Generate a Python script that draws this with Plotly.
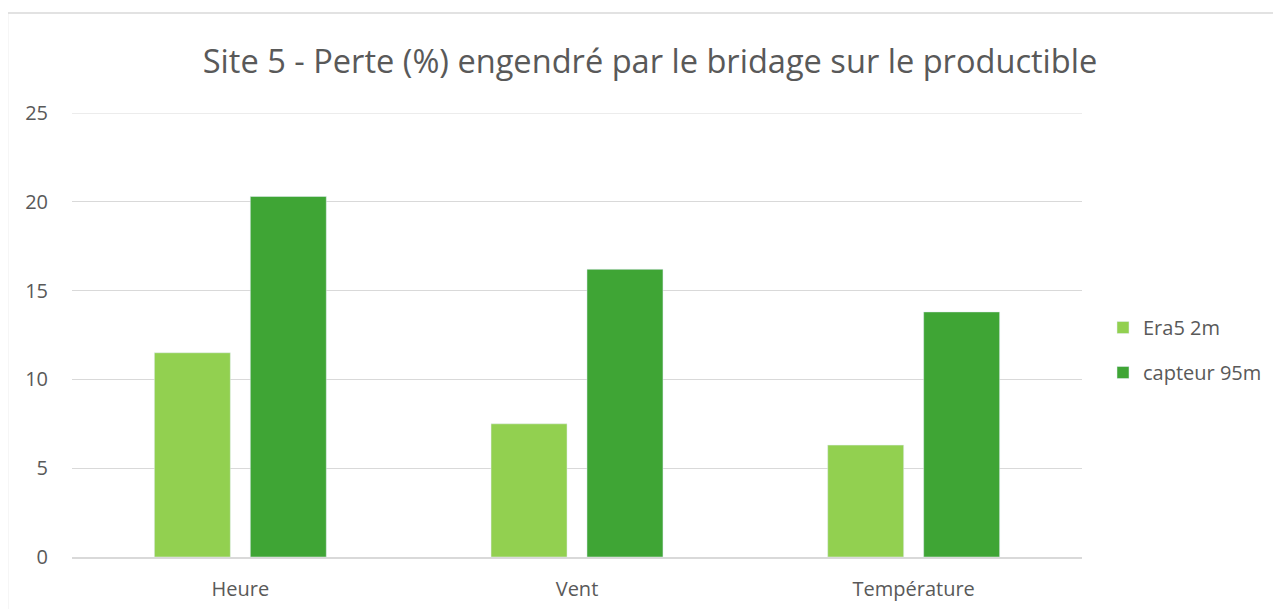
import plotly.graph_objects as go

categories = ["Heure", "Vent", "Température"]
era5_2m = [11.5, 7.5, 6.3]
capteur_95m = [20.3, 16.2, 13.8]
y_ticks = [0, 5, 10, 15, 20, 25]

# page body has an 8px margin, so figure coords = screen coords - 8
OFF = 8
W, H = 1281 - OFF, 609 - OFF
L, R, T, B = 72 - OFF, W - (1082 - OFF), 113 - OFF, H - (557 - OFF)
pw, ph = W - L - R, H - T - B

def px_x(px):
    return (px - OFF - L) / pw

def px_y(py):
    return (H - B - (py - OFF)) / ph

fig = go.Figure()
fig.add_trace(go.Bar(x=categories, y=era5_2m, name="Era5 2m",
                     marker_color="#92D050", legendgroup="a"))
fig.add_trace(go.Bar(x=categories, y=capteur_95m, name="capteur 95m",
                     marker_color="#3FA535", legendgroup="b"))

font_family = "Open Sans"
fig.update_layout(
    width=W, height=H,
    margin=dict(l=L, r=R, t=T, b=B, autoexpand=False),
    paper_bgcolor="white", plot_bgcolor="white",
    font=dict(family=font_family, color="#595959", size=20),
    title=dict(text="Site 5 - Perte (%) engendré par le bridage sur le productible",
               x=(650 - OFF) / W, xanchor="center", y=1 - (62 - OFF) / H, yanchor="middle",
               font=dict(size=32.6, color="#595959", family=font_family)),
    barmode="group", bargap=0.43, bargroupgap=0.208,
    legend=dict(x=px_x(1103), xanchor="left", y=px_y(350), yanchor="middle",
                font=dict(size=20, color="#595959"),
                traceorder="grouped", tracegroupgap=16, bgcolor="rgba(0,0,0,0)"),
    xaxis=dict(showgrid=False, showline=True, linecolor="#D9D9D9", linewidth=1.5,
               ticks="", ticklabelstandoff=13, tickfont=dict(size=20), automargin=False),
    yaxis=dict(range=[0, 25], tickvals=y_ticks, showgrid=True, gridcolor="#D9D9D9",
               gridwidth=1.2, zeroline=False, showline=False, ticks="",
               ticklabelstandoff=23, tickfont=dict(size=20), automargin=False),
    shapes=[
        dict(type="line", xref="paper", yref="y", x0=0, x1=1, y0=25, y1=25,
             line=dict(color="#D9D9D9", width=1.2), layer="below"),
        dict(type="line", xref="paper", yref="paper", x0=px_x(7.5), x1=px_x(1300),
             y0=px_y(13), y1=px_y(13), line=dict(color="#D9D9D9", width=1.5)),
        dict(type="line", xref="paper", yref="paper", x0=px_x(7.5), x1=px_x(7.5),
             y0=px_y(13), y1=px_y(640), line=dict(color="#D9D9D9", width=1.5)),
    ],
)

fig.write_html("out.html")
